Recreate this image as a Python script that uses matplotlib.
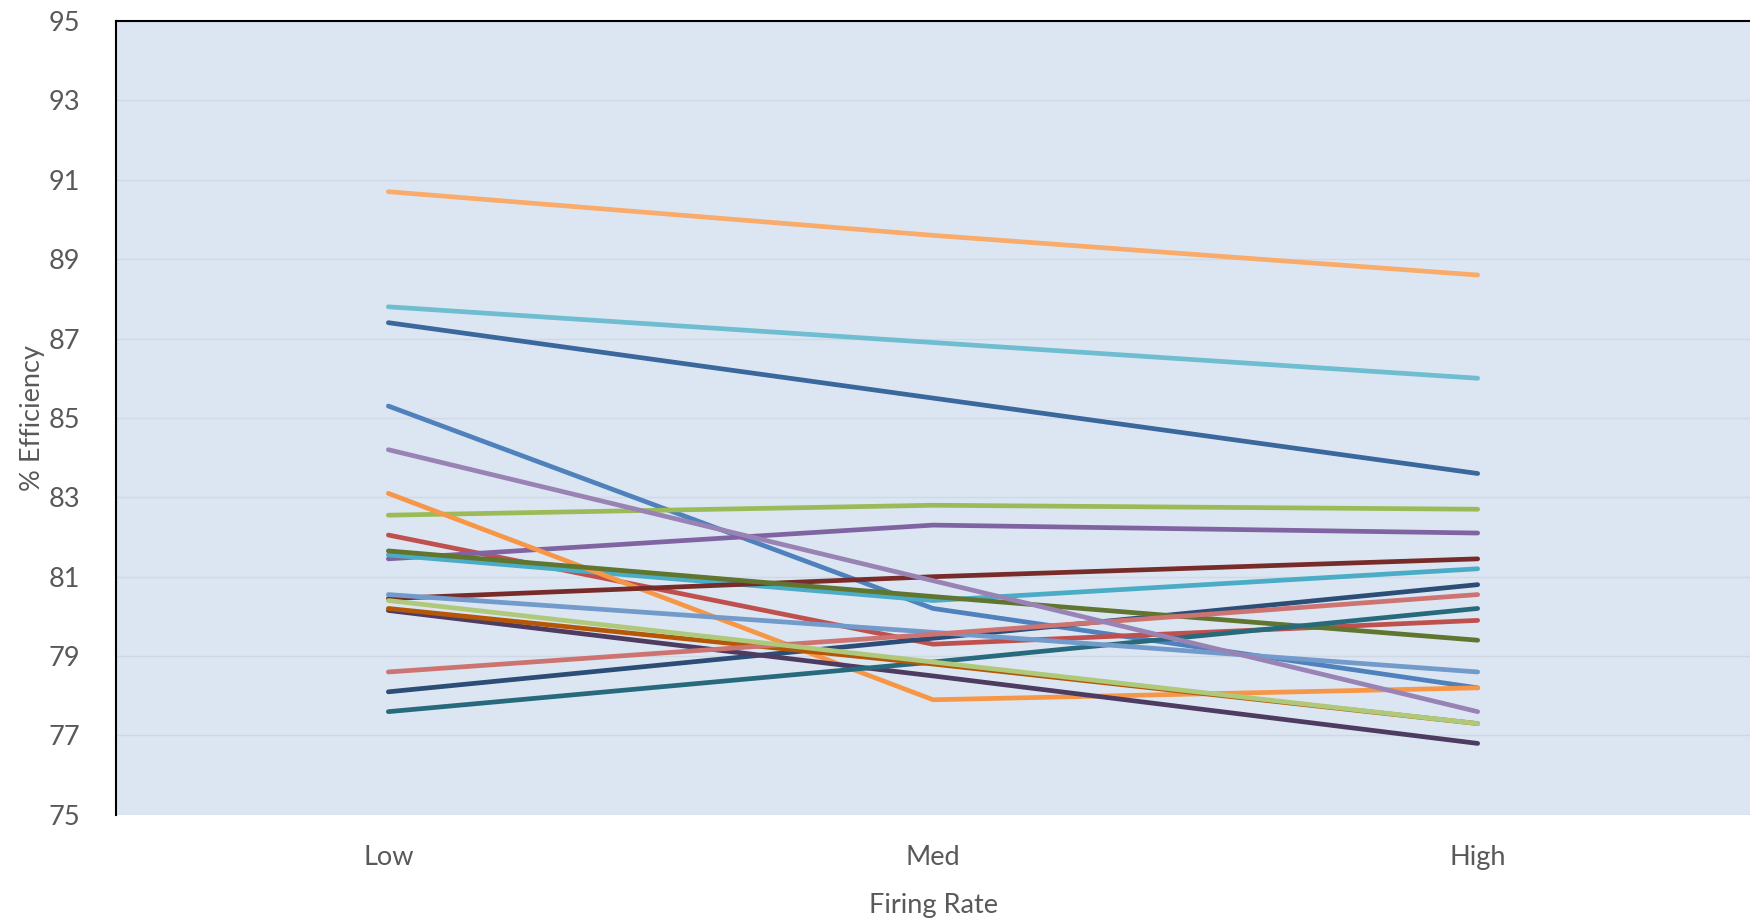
import matplotlib.pyplot as plt

plt.rcParams['font.family'] = ['Lato', 'DejaVu Sans']

rates = ['Low', 'Med', 'High']

# % efficiency per unit at each firing rate
eff = [
    [85.3, 80.2, 78.2],
    [82.05, 79.3, 79.9],
    [82.55, 82.8, 82.7],
    [81.45, 82.3, 82.1],
    [81.55, 80.4, 81.2],
    [83.1, 77.9, 78.2],
    [78.1, 79.45, 80.8],
    [80.45, 81.0, 81.45],
    [81.65, 80.5, 79.4],
    [80.15, 78.5, 76.8],
    [77.6, 78.85, 80.2],
    [80.2, 78.8, 77.3],
    [80.55, 79.6, 78.6],
    [78.6, 79.55, 80.55],
    [80.4, 78.85, 77.3],
    [84.2, 80.9, 77.6],
    [87.8, 86.9, 86.0],
    [90.7, 89.6, 88.6],
    [87.4, 85.5, 83.6],
]
colors = ['#4F81BD', '#C0504D', '#9BBB59', '#8064A2', '#4BACC6', '#F79646',
          '#2C4D75', '#772C2A', '#5F7530', '#4D3B62', '#276A7C', '#B65708',
          '#729ACA', '#CD7371', '#AFC97A', '#9983B5', '#6FBDD1', '#F9AB6B', '#3A679C']

fig = plt.figure(figsize=(17.5, 9.22), dpi=100)
ax = fig.add_axes([0.0663, 0.1162, 0.9337, 0.861])
ax.set_facecolor('#DCE6F2')

x = list(range(len(rates)))
for vals, c in zip(eff, colors):
    ax.plot(x, vals, color=c, lw=3.4, solid_capstyle='round')

ax.set_xlim(-0.5, 2.5)
ax.set_ylim(75, 95)
ax.set_yticks(range(75, 96, 2))
ax.set_xticks(x)
ax.set_xticklabels(rates)
ax.grid(axis='y', color='#CFD8E4', lw=1)
ax.set_axisbelow(True)

for s in ['right', 'bottom']:
    ax.spines[s].set_visible(False)
for s in ['left', 'top']:
    ax.spines[s].set_color('black')
    ax.spines[s].set_linewidth(1.5)

ax.tick_params(length=0, labelsize=19.5, colors='#595959')
ax.tick_params(axis='y', pad=26)
ax.tick_params(axis='x', pad=22)
ax.set_xlabel('Firing Rate', fontsize=19.5, color='#595959', labelpad=16)
ax.set_ylabel('% Efficiency', fontsize=19.5, color='#595959', labelpad=2)

fig.savefig('out.png', dpi=100, facecolor='white')
